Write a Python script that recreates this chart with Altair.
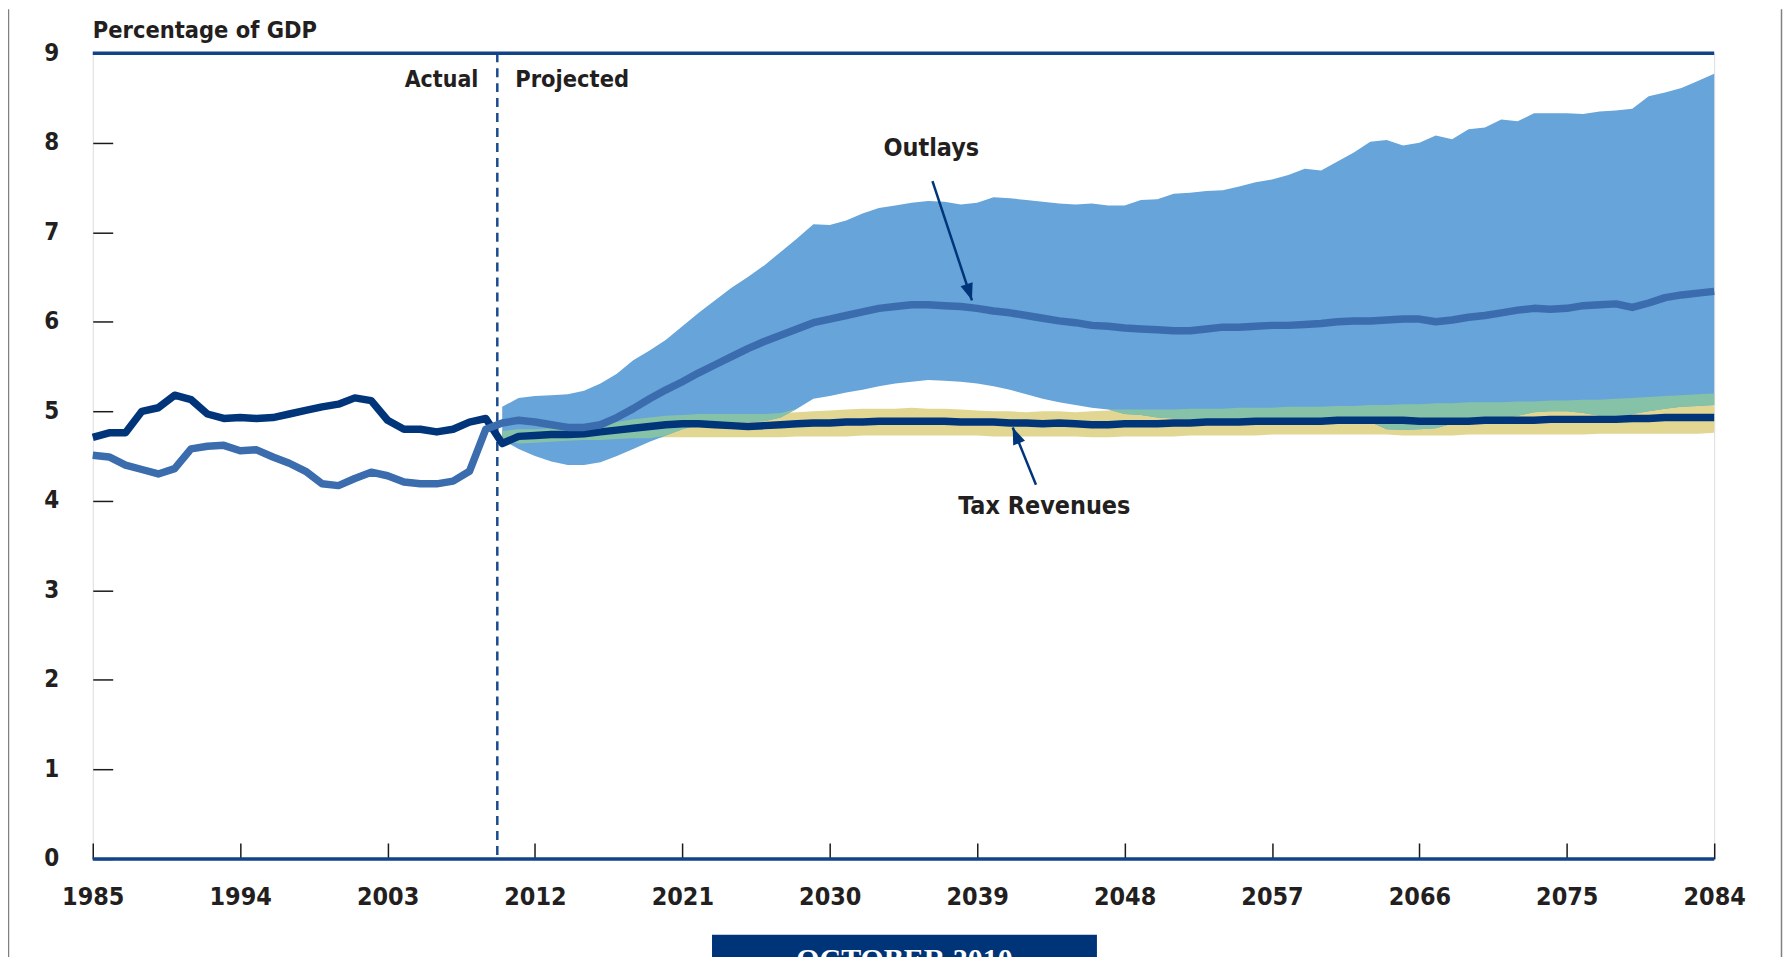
import math
import altair as alt
import pandas as pd

# ---------------- data ----------------
actual_years = list(range(1985, 2010))
projected_years = list(range(2010, 2085))

revenues_actual = [4.71, 4.76, 4.76, 5.00, 5.04, 5.18, 5.13, 4.97, 4.92, 4.93,
                   4.92, 4.93, 4.97, 5.01, 5.05, 5.08, 5.15, 5.12, 4.90, 4.80,
                   4.80, 4.77, 4.80, 4.88, 4.92]
outlays_actual = [4.51, 4.49, 4.40, 4.35, 4.30, 4.36, 4.58, 4.61, 4.62, 4.56,
                  4.57, 4.49, 4.42, 4.33, 4.19, 4.17, 4.25, 4.32, 4.28, 4.21,
                  4.19, 4.19, 4.22, 4.33, 4.80]

revenues_median = [4.64, 4.72, 4.73, 4.74, 4.74, 4.75, 4.77, 4.79, 4.81, 4.83,
                   4.85, 4.86, 4.86, 4.85, 4.84, 4.83, 4.84, 4.85, 4.86, 4.87,
                   4.87, 4.88, 4.88, 4.89, 4.89, 4.89, 4.89, 4.89, 4.88, 4.88,
                   4.88, 4.87, 4.87, 4.86, 4.87, 4.86, 4.85, 4.85, 4.86, 4.86,
                   4.86, 4.87, 4.87, 4.88, 4.88, 4.88, 4.89, 4.89, 4.89, 4.89,
                   4.89, 4.90, 4.90, 4.90, 4.90, 4.90, 4.89, 4.89, 4.89, 4.89,
                   4.90, 4.90, 4.90, 4.90, 4.91, 4.91, 4.91, 4.91, 4.91, 4.92,
                   4.92, 4.93, 4.93, 4.93, 4.93]
revenues_low = [4.62, 4.64, 4.65, 4.66, 4.67, 4.68, 4.68, 4.69, 4.70, 4.70,
                4.71, 4.71, 4.71, 4.71, 4.71, 4.71, 4.71, 4.71, 4.72, 4.72,
                4.72, 4.72, 4.73, 4.73, 4.73, 4.73, 4.73, 4.73, 4.73, 4.73,
                4.72, 4.72, 4.72, 4.72, 4.72, 4.72, 4.71, 4.71, 4.72, 4.72,
                4.72, 4.72, 4.73, 4.73, 4.73, 4.73, 4.73, 4.74, 4.74, 4.74,
                4.74, 4.74, 4.74, 4.74, 4.74, 4.73, 4.73, 4.73, 4.73, 4.74,
                4.74, 4.74, 4.74, 4.74, 4.74, 4.74, 4.74, 4.75, 4.75, 4.75,
                4.75, 4.75, 4.75, 4.75, 4.76]
revenues_high = [4.78, 4.80, 4.80, 4.81, 4.82, 4.83, 4.86, 4.88, 4.91, 4.93,
                 4.95, 4.96, 4.97, 4.97, 4.97, 4.97, 4.97, 4.98, 4.99, 5.00,
                 5.01, 5.02, 5.03, 5.03, 5.03, 5.04, 5.03, 5.03, 5.02, 5.01,
                 5.00, 5.00, 4.99, 5.00, 5.00, 4.99, 5.00, 5.01, 5.02, 5.02,
                 5.02, 5.02, 5.03, 5.03, 5.03, 5.04, 5.04, 5.04, 5.05, 5.05,
                 5.05, 5.06, 5.06, 5.07, 5.07, 5.08, 5.08, 5.09, 5.09, 5.10,
                 5.10, 5.10, 5.11, 5.11, 5.12, 5.12, 5.13, 5.13, 5.14, 5.15,
                 5.16, 5.17, 5.18, 5.19, 5.20]

outlays_median = [4.87, 4.90, 4.88, 4.85, 4.82, 4.82, 4.85, 4.93, 5.03, 5.14,
                  5.24, 5.33, 5.43, 5.52, 5.61, 5.70, 5.78, 5.85, 5.92, 5.99,
                  6.03, 6.07, 6.11, 6.15, 6.17, 6.19, 6.19, 6.18, 6.17, 6.15,
                  6.12, 6.10, 6.07, 6.04, 6.01, 5.99, 5.96, 5.95, 5.93, 5.92,
                  5.91, 5.90, 5.90, 5.92, 5.94, 5.94, 5.95, 5.96, 5.96, 5.97,
                  5.98, 6.00, 6.01, 6.01, 6.02, 6.03, 6.03, 6.00, 6.02, 6.05,
                  6.07, 6.10, 6.13, 6.15, 6.14, 6.15, 6.18, 6.19, 6.20, 6.16,
                  6.21, 6.27, 6.30, 6.32, 6.34]
outlays_low = [4.68, 4.58, 4.50, 4.44, 4.40, 4.40, 4.43, 4.50, 4.58, 4.66,
               4.73, 4.80, 4.85, 4.87, 4.88, 4.88, 4.89, 4.93, 5.03, 5.14,
               5.17, 5.21, 5.24, 5.28, 5.31, 5.33, 5.35, 5.34, 5.33, 5.31,
               5.28, 5.24, 5.19, 5.14, 5.10, 5.07, 5.04, 5.02, 4.97, 4.96,
               4.93, 4.92, 4.91, 4.90, 4.90, 4.90, 4.90, 4.90, 4.90, 4.90,
               4.90, 4.90, 4.90, 4.88, 4.80, 4.79, 4.80, 4.81, 4.86, 4.90,
               4.91, 4.92, 4.95, 4.99, 5.00, 5.00, 4.98, 4.95, 4.92, 4.97,
               5.00, 5.03, 5.05, 5.06, 5.07]
outlays_high = [5.05, 5.15, 5.17, 5.18, 5.19, 5.23, 5.31, 5.42, 5.57, 5.68,
                5.80, 5.95, 6.10, 6.24, 6.38, 6.50, 6.63, 6.78, 6.93, 7.09,
                7.08, 7.13, 7.21, 7.27, 7.30, 7.33, 7.35, 7.34, 7.31, 7.33,
                7.39, 7.38, 7.36, 7.34, 7.32, 7.31, 7.32, 7.30, 7.30, 7.36,
                7.37, 7.43, 7.44, 7.46, 7.47, 7.51, 7.56, 7.59, 7.64, 7.71,
                7.69, 7.79, 7.89, 8.01, 8.03, 7.97, 8.00, 8.08, 8.04, 8.15,
                8.17, 8.26, 8.24, 8.33, 8.33, 8.33, 8.32, 8.35, 8.36, 8.38,
                8.52, 8.56, 8.61, 8.69, 8.77]

x_tick_years = [1985, 1994, 2003, 2012, 2021, 2030, 2039, 2048, 2057, 2066, 2075, 2084]
y_tick_values = [0, 1, 2, 3, 4, 5, 6, 7, 8, 9]
boundary_year = 2009.7

annotation_labels = ["Outlays", "Tax Revenues"]
annotation_years = [2036.2, 2043.1]
annotation_values = [7.85, 3.85]

arrow_tail_years = [2036.27, 2042.59]
arrow_tail_values = [7.57, 4.18]
arrow_tip_years = [2038.68, 2041.17]
arrow_tip_values = [6.24, 4.82]

# ---------------- styling ----------------
W, H = 1626, 808
FONT = "DejaVu Sans Condensed, DejaVu Sans, sans-serif"
TEXT = "#231f20"
NAVY = "#00357a"
MID = "#3a6cae"
BAND = "#66a4d9"
GREEN = "#86c2a8"
TAN = "#e2d693"
BORDER = "#12428a"
LINE_W = 7.5

xscale = alt.Scale(domain=[1985, 2084], nice=False, zero=False)
yscale = alt.Scale(domain=[0, 9], nice=False, zero=True)

xaxis = alt.Axis(values=x_tick_years, format="d", title=None, grid=False, domain=False,
                 offset=-16, tickSize=16, tickWidth=1.5, tickColor="#1a1a1a",
                 labelPadding=26, labelFont=FONT, labelFontSize=25, labelFontWeight="bold",
                 labelColor=TEXT, labelFlush=False, labelOverlap=False)
yaxis = alt.Axis(values=y_tick_values, format="d", title=None, grid=False, domain=False,
                 offset=-20, tickSize=20, tickWidth=1.5, tickColor="#1a1a1a",
                 labelPadding=34, labelFont=FONT, labelFontSize=24, labelFontWeight="bold",
                 labelColor=TEXT, labelOverlap=False)


def X(field):
    return alt.X(f"{field}:Q", scale=xscale, axis=xaxis)


def Y(field):
    return alt.Y(f"{field}:Q", scale=yscale, axis=yaxis)


# ---------------- tables ----------------
overlap_low = [max(a, b) for a, b in zip(outlays_low, revenues_low)]
overlap_high = [min(a, b) for a, b in zip(outlays_high, revenues_high)]
overlap_high = [max(h, l) for h, l in zip(overlap_high, overlap_low)]

bands = pd.DataFrame({
    "year": projected_years,
    "rev_lo": revenues_low, "rev_hi": revenues_high,
    "out_lo": outlays_low, "out_hi": outlays_high,
    "ov_lo": overlap_low, "ov_hi": overlap_high,
})
revenue_line = pd.DataFrame({"year": actual_years + projected_years,
                             "value": revenues_actual + revenues_median})
outlay_line = pd.DataFrame({"year": actual_years + projected_years,
                            "value": outlays_actual + outlays_median})
boundary = pd.DataFrame({"year": [boundary_year]})
notes = pd.DataFrame({"label": annotation_labels, "year": annotation_years,
                      "value": annotation_values})
arrows = pd.DataFrame({"year": arrow_tail_years, "value": arrow_tail_values,
                       "year2": arrow_tip_years, "value2": arrow_tip_values})
one = pd.DataFrame({"k": [0]})

px_year = W / (2084 - 1985)
px_val = H / 9.0

layers = []
layers.append(alt.Chart(bands).mark_area(color=TAN, opacity=1).encode(
    x=X("year"), y=Y("rev_lo"), y2="rev_hi"))
layers.append(alt.Chart(bands).mark_area(color=BAND, opacity=1).encode(
    x=X("year"), y=Y("out_lo"), y2="out_hi"))
layers.append(alt.Chart(bands).mark_area(color=GREEN, opacity=1).encode(
    x=X("year"), y=Y("ov_lo"), y2="ov_hi"))
layers.append(alt.Chart(boundary).mark_rule(color="#1b4a8f", strokeWidth=2.5,
                                            strokeDash=[9, 6]).encode(x=X("year")))
layers.append(alt.Chart(revenue_line).mark_line(color=NAVY, strokeWidth=LINE_W,
                                                strokeJoin="round").encode(
    x=X("year"), y=Y("value")))
layers.append(alt.Chart(outlay_line).mark_line(color=MID, strokeWidth=LINE_W,
                                               strokeJoin="round").encode(
    x=X("year"), y=Y("value")))

# arrows
layers.append(alt.Chart(arrows).mark_rule(color=NAVY, strokeWidth=2.5).encode(
    x=X("year"), y=Y("value"), x2="year2", y2="value2"))
head_shape = "M0,0L-0.75,2L0.75,2Z"
for i in range(len(arrow_tip_years)):
    dx = (arrow_tip_years[i] - arrow_tail_years[i]) * px_year
    dy = -(arrow_tip_values[i] - arrow_tail_values[i]) * px_val
    ang = math.degrees(math.atan2(dx, -dy)) % 360
    head = pd.DataFrame({"year": [arrow_tip_years[i]], "value": [arrow_tip_values[i]]})
    layers.append(alt.Chart(head).mark_point(shape=head_shape, filled=True, size=289,
                                             angle=ang, color=NAVY, opacity=1,
                                             strokeWidth=0).encode(
        x=X("year"), y=Y("value")))

# annotations
layers.append(alt.Chart(notes).mark_text(font=FONT, fontSize=25, fontWeight="bold",
                                         color=TEXT, align="center",
                                         baseline="alphabetic").encode(
    x=X("year"), y=Y("value"), text="label:N"))
phase = pd.DataFrame({"year": [boundary_year], "value": [8.62]})
layers.append(alt.Chart(phase).mark_text(text="Actual", font=FONT, fontSize=23,
                                         fontWeight="bold", color=TEXT, align="right",
                                         baseline="alphabetic", dx=-19).encode(
    x=X("year"), y=Y("value")))
layers.append(alt.Chart(phase).mark_text(text="Projected", font=FONT, fontSize=23.5,
                                         fontWeight="bold", color=TEXT, align="left",
                                         baseline="alphabetic", dx=18).encode(
    x=X("year"), y=Y("value")))
layers.append(alt.Chart(one).mark_text(text="Percentage of GDP", font=FONT, fontSize=23.5,
                                       fontWeight="bold", color=TEXT, align="left",
                                       baseline="alphabetic").encode(
    x=alt.value(0), y=alt.value(-15)))

# thicker top / bottom frame
for yy in (0, H):
    layers.append(alt.Chart(one).mark_rule(color=BORDER, strokeWidth=3.5).encode(
        x=alt.value(0), x2=alt.value(W), y=alt.value(yy)))

# page decorations (outer frame and bottom banner)
layers.append(alt.Chart(one).mark_rule(color="#808080", strokeWidth=1.5).encode(
    x=alt.value(-84.5), y=alt.value(-44), y2=alt.value(910)))
layers.append(alt.Chart(one).mark_rule(color="#808080", strokeWidth=1.5).encode(
    x=alt.value(1693.5), y=alt.value(-44), y2=alt.value(910)))
layers.append(alt.Chart(one).mark_rect(color="#003478").encode(
    x=alt.value(621), x2=alt.value(1007), y=alt.value(884), y2=alt.value(915)))
layers.append(alt.Chart(one).mark_text(text="OCTOBER 2010", font="Liberation Serif",
                                       fontSize=30, fontWeight="bold", color="white",
                                       align="center", baseline="alphabetic").encode(
    x=alt.value(814), y=alt.value(918)))

chart = alt.layer(*layers).properties(
    width=W, height=H,
    padding={"left": 85, "top": 44, "right": 69, "bottom": 97},
    autosize=alt.AutoSizeParams(type="none"),
).configure_view(stroke=BORDER, strokeWidth=2.5).configure(background="white")

chart.save("out.html", embed_options={"renderer": "svg", "actions": False})
